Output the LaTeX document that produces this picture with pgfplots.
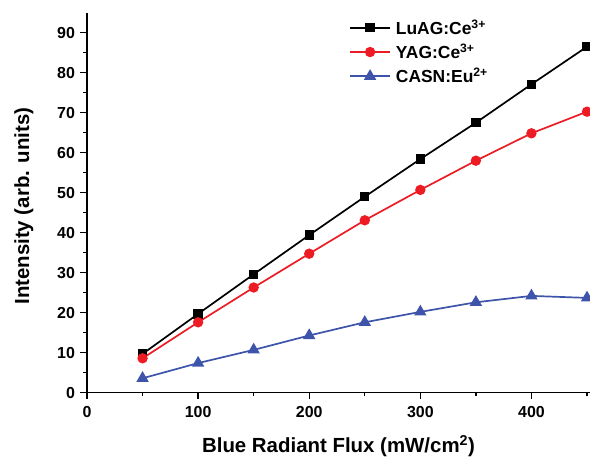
\documentclass[border=0pt]{standalone}
\usepackage{fontspec}
\setmainfont{Liberation Sans}
\usepackage{pgfplots}
\pgfplotsset{compat=1.18}
\definecolor{cred}{RGB}{237,28,36}
\definecolor{cblue}{RGB}{62,84,170}
\begin{document}
\begin{tikzpicture}
\begin{axis}[
  scale only axis, width=503bp, height=380bp,
  xmin=0, xmax=452.7, ymin=0, ymax=95,
  axis x line*=bottom, axis y line*=left,
  axis line style={line width=1.4bp},
  xtick={0,100,...,400}, minor xtick={50,150,...,450},
  ytick={0,10,...,90}, minor y tick num=1,
  tick align=outside,
  major tick length=6.5bp, minor tick length=3.5bp,
  tick style={black, line width=1.3bp},
  /pgf/number format/assume math mode=true,
  tick label style={font=\bfseries\fontsize{16}{16}\selectfont},
  xticklabel style={yshift=-4bp},
  yticklabel style={xshift=-2bp},
  xlabel={\bfseries Blue Radiant Flux (mW/cm\textsuperscript{2})},
  ylabel={\bfseries Intensity (arb. units)},
  xlabel style={at={(axis description cs:0.5,0)}, anchor=base, yshift=-60bp},
  ylabel style={at={(axis description cs:-0.1153,0.491)}, anchor=base, font=\bfseries\fontsize{21}{21}\selectfont},
  label style={font=\bfseries\fontsize{20.5}{20.5}\selectfont},
  legend cell align=left,
  legend style={draw=none, fill=none, at={(0.515,0.998)}, anchor=north west,
    font=\bfseries\fontsize{17.5}{21}\selectfont,
    /tikz/every even row/.style={yshift=0bp},
    nodes={inner xsep=5bp, inner ysep=4bp}},
  legend image code/.code={\draw[mark repeat=2,mark phase=2] plot coordinates {(0bp,0bp) (20bp,0bp) (40bp,0bp)};},
]
\coordinate (bl) at (rel axis cs:0,0);
\coordinate (tr) at (rel axis cs:1,1);
\addplot[black, line width=1.7bp, mark=square*, mark size=3.8bp] coordinates {
(50,9.7) (100,19.7) (150,29.6) (200,39.4) (250,49.0) (300,58.4) (350,67.5) (400,77.1) (450,86.5)};
\addlegendentry{LuAG:Ce\textsuperscript{3+}}
\addplot[cred, line width=1.7bp, mark=*, mark size=4.3bp] coordinates {
(50,8.6) (100,17.6) (150,26.3) (200,34.75) (250,43.1) (300,50.7) (350,58.0) (400,64.85) (450,70.25)};
\addlegendentry{YAG:Ce\textsuperscript{3+}}
\addplot[cblue, line width=1.7bp, mark=triangle*, mark size=5.5bp] coordinates {
(50,3.6) (100,7.4) (150,10.7) (200,14.3) (250,17.6) (300,20.2) (350,22.6) (400,24.2) (450,23.7)};
\addlegendentry{CASN:Eu\textsuperscript{2+}}
\end{axis}
\pgfresetboundingbox
\path[use as bounding box] ([shift={(-87bp,-68.3bp)}]bl) rectangle ([shift={(0bp,12.7bp)}]tr);
\end{tikzpicture}
\end{document}
